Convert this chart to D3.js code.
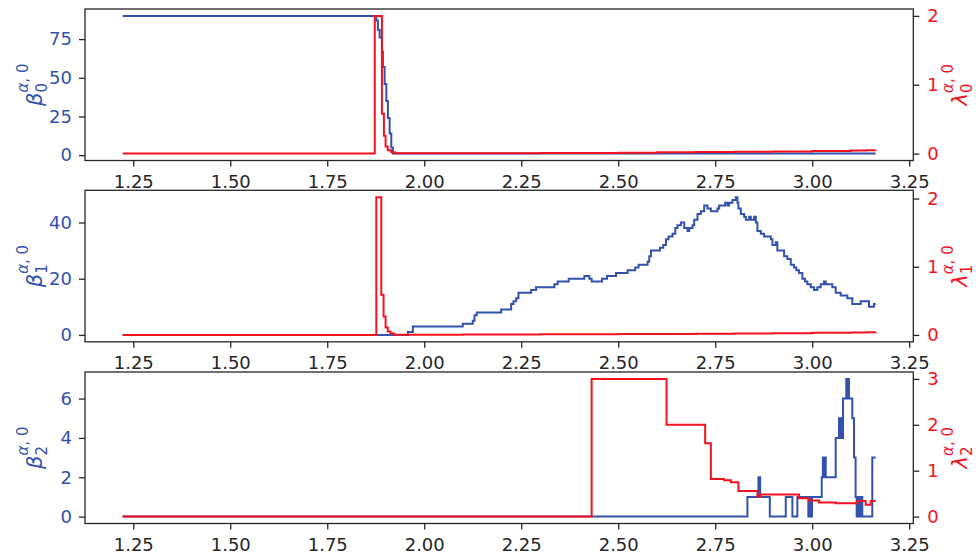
<!DOCTYPE html>
<html>
<head>
<meta charset="utf-8">
<script src="https://cdn.jsdelivr.net/npm/d3@7"></script>
<style>
  body { margin: 0; background: #fff; }
  svg, svg text { font-family: "DejaVu Sans", sans-serif; }
</style>
</head>
<body>
<svg id="chart" width="976" height="559"></svg>
<script>
// x positions of the tick marks (same on all three panels)
const xTicks = [1.25, 1.5, 1.75, 2.0, 2.25, 2.5, 2.75, 3.0, 3.25];

// betti numbers, step series [x, value]
const beta0 = [
  [1.2227, 90], [1.8765, 87], [1.8806, 81], [1.885, 76], [1.891, 67], [1.8935, 57],
  [1.8979, 46], [1.9023, 35], [1.9064, 24], [1.9108, 14], [1.9151, 5], [1.9192, 1],
  [3.1635, 1]
];
const lambda0 = [
  [1.2227, 0], [1.8725, 2.0], [1.891, 0.58], [1.8961, 0.26], [1.9004, 0.105], [1.906, 0.05],
  [1.915, 0.02], [1.924, 0.004], [2.1, 0.005], [2.3, 0.009], [2.5, 0.014], [2.6, 0.018],
  [2.7, 0.022], [2.8, 0.027], [2.9, 0.032], [3.0, 0.037], [3.1, 0.045], [3.14, 0.049], [3.1635, 0.05]
];

const beta1 = [
  [1.2227, 0], [1.958, 1], [1.9707, 3], [2.0994, 4], [2.1252, 5], [2.1295, 7], [2.1354, 8],
  [2.1983, 9], [2.224, 11], [2.230, 12], [2.2369, 13], [2.2428, 15], [2.2755, 16], [2.2883, 17],
  [2.3355, 18], [2.344, 19], [2.3723, 20], [2.4127, 21], [2.4255, 20], [2.4315, 19], [2.4582, 20],
  [2.4711, 21], [2.4943, 22], [2.5241, 23], [2.5439, 24], [2.5525, 25], [2.5756, 26], [2.58, 28],
  [2.5844, 30], [2.6075, 31], [2.616, 32], [2.623, 34], [2.6297, 35], [2.64, 36], [2.647, 38],
  [2.6528, 39], [2.6616, 40], [2.6701, 38], [2.6786, 37], [2.683, 38], [2.6914, 39], [2.6958, 41],
  [2.7043, 43], [2.713, 44], [2.7216, 46], [2.73, 45], [2.7388, 44], [2.7558, 45], [2.7601, 46],
  [2.7756, 47], [2.7815, 46], [2.7859, 47], [2.7944, 48], [2.8031, 49], [2.8073, 47], [2.8098, 45],
  [2.816, 43], [2.8245, 42], [2.8289, 41], [2.8374, 42], [2.8418, 41], [2.8503, 42], [2.8546, 40],
  [2.8588, 37], [2.8675, 36], [2.876, 35], [2.8933, 34], [2.8974, 32], [2.9061, 33], [2.9102, 30],
  [2.9275, 28], [2.9359, 27], [2.9447, 25], [2.9532, 24], [2.9591, 23], [2.9661, 22], [2.9746, 20],
  [2.9815, 19], [2.9875, 18], [2.9962, 17], [3.0047, 16], [3.0132, 17], [3.0219, 18], [3.0304, 19],
  [3.0348, 18], [3.0518, 17], [3.0605, 15], [3.0734, 14], [3.0904, 13], [3.1033, 11], [3.1249, 12],
  [3.1463, 10], [3.1591, 11], [3.1635, 11]
];
const lambda1 = [
  [1.2227, 0], [1.8765, 2.02], [1.8893, 0.59], [1.8952, 0.27], [1.9004, 0.11], [1.906, 0.05],
  [1.913, 0.02], [1.922, 0.004], [2.1, 0.005], [2.3, 0.008], [2.5, 0.012], [2.6, 0.015],
  [2.7, 0.018], [2.8, 0.022], [2.9, 0.026], [3.0, 0.031], [3.1, 0.037], [3.14, 0.04], [3.1635, 0.042]
];

const beta2 = [
  [1.2227, 0], [2.833, 1], [2.8614, 2], [2.8658, 1], [2.8907, 0], [2.9318, 1], [2.9489, 0],
  [2.9617, 1], [2.990, 0], [2.992, 1], [2.994, 0], [2.996, 1], [2.998, 0], [2.9995, 1],
  [3.0245, 2], [3.0275, 3], [3.029, 2], [3.032, 3], [3.0348, 2], [3.0605, 4], [3.069, 5],
  [3.072, 4], [3.074, 5], [3.077, 4], [3.0794, 6], [3.0878, 7], [3.0895, 6], [3.091, 7],
  [3.0947, 6], [3.1033, 5], [3.1077, 3], [3.1118, 1], [3.1146, 0], [3.117, 1], [3.119, 0],
  [3.1225, 1], [3.125, 0], [3.128, 1], [3.1291, 0], [3.1548, 3], [3.1635, 3]
];
const lambda2 = [
  [1.2227, 0], [2.4315, 3.0], [2.6245, 2.0], [2.7241, 1.6], [2.7388, 0.82], [2.773, 0.79],
  [2.7903, 0.75], [2.8098, 0.56], [2.8588, 0.44], [2.8675, 0.48], [2.9661, 0.40], [2.9918, 0.35],
  [3.0176, 0.31], [3.0605, 0.29], [3.1161, 0.34], [3.1377, 0.26], [3.1506, 0.34], [3.1635, 0.34]
];

const betaTicks = [[0, 25, 50, 75], [0, 20, 40], [0, 2, 4, 6]];
const lambdaTicks = [[0, 1, 2], [0, 1, 2], [0, 1, 2, 3]];

const blue = "#3352ad", red = "#f5121e", ink = "#262626";
const frameLeft = 85, frameRight = 913.3, panelH = 151.5;
const panelTops = [9, 190.3, 372];

const svg = d3.select("#chart");

// matplotlib style 5% margin around the data
function padded(vals) {
  const [lo, hi] = d3.extent(vals);
  const p = (hi - lo) * 0.05;
  return [lo - p, hi + p];
}

const x = d3.scaleLinear()
  .domain(padded([].concat(beta0, beta1, beta2).map(d => d[0])))
  .range([frameLeft, frameRight]);

function yLabel(g, sym, sub, tx, ty, color) {
  const t = g.append("text")
    .attr("transform", `translate(${tx},${ty}) rotate(-90)`)
    .attr("text-anchor", "middle")
    .attr("fill", color)
    .style("font-size", "21px");
  t.append("tspan").style("font-style", "italic").text(sym);
  t.append("tspan").attr("dy", 5).style("font-size", "15px").text(sub);
  t.append("tspan").attr("dx", -9.5).attr("dy", -19).style("font-size", "15px")
    .style("font-style", "italic").text("α");
  t.append("tspan").style("font-size", "15px").text(", 0");
}

function drawPanel(i, beta, lambda) {
  const top = panelTops[i], bottom = top + panelH;
  const g = svg.append("g");

  const yL = d3.scaleLinear().domain(padded(beta.map(d => d[1]))).range([bottom, top]);
  const yR = d3.scaleLinear().domain(padded(lambda.map(d => d[1]))).range([bottom, top]);

  const lineL = d3.line().curve(d3.curveStepAfter).x(d => x(d[0])).y(d => yL(d[1]));
  const lineR = d3.line().curve(d3.curveStepAfter).x(d => x(d[0])).y(d => yR(d[1]));

  g.append("path").attr("d", lineL(beta))
    .attr("fill", "none").attr("stroke", blue).attr("stroke-width", 2);
  g.append("path").attr("d", lineR(lambda))
    .attr("fill", "none").attr("stroke", red).attr("stroke-width", 2);

  g.append("rect")
    .attr("x", frameLeft).attr("y", top)
    .attr("width", frameRight - frameLeft).attr("height", panelH)
    .attr("fill", "none").attr("stroke", ink).attr("stroke-width", 1.3);

  const xAxis = g.append("g").attr("transform", `translate(0,${bottom})`)
    .call(d3.axisBottom(x).tickValues(xTicks).tickFormat(d3.format(".2f"))
      .tickSize(6).tickPadding(8.5));
  const lAxis = g.append("g").attr("transform", `translate(${frameLeft},0)`)
    .call(d3.axisLeft(yL).tickValues(betaTicks[i]).tickFormat(d3.format("d"))
      .tickSize(6).tickPadding(7));
  const rAxis = g.append("g").attr("transform", `translate(${frameRight},0)`)
    .call(d3.axisRight(yR).tickValues(lambdaTicks[i]).tickFormat(d3.format("d"))
      .tickSize(6).tickPadding(8));

  [xAxis, lAxis, rAxis].forEach(a => {
    a.attr("font-family", null).attr("font-size", null);
    a.select(".domain").remove();
    a.selectAll("line").attr("stroke", ink).attr("stroke-width", 1.3);
    a.selectAll("text").style("font-size", "18px");
  });
  xAxis.selectAll("text").attr("fill", ink);
  lAxis.selectAll("text").attr("fill", blue);
  rAxis.selectAll("text").attr("fill", red);

  const mid = (top + bottom) / 2;
  yLabel(g, "β", String(i), 42, mid, blue);
  yLabel(g, "λ", String(i), 967, mid, red);
}

drawPanel(0, beta0, lambda0);
drawPanel(1, beta1, lambda1);
drawPanel(2, beta2, lambda2);
</script>
</body>
</html>
